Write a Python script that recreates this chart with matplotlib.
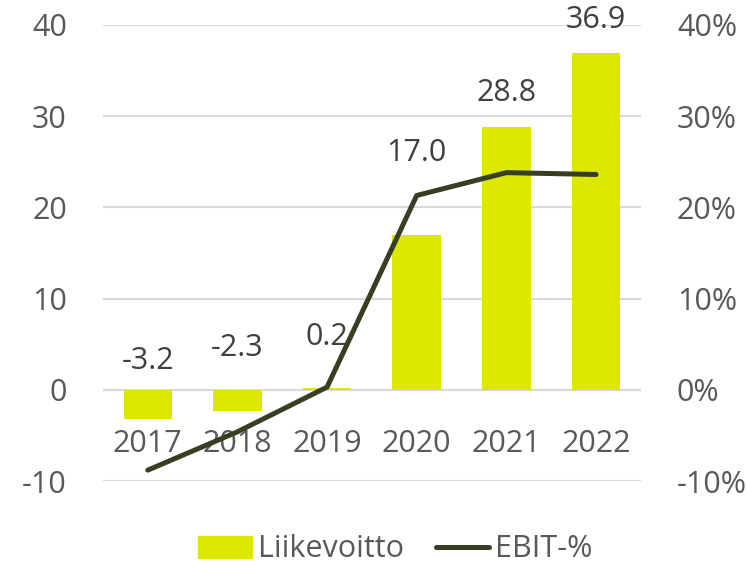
import matplotlib.pyplot as plt
import numpy as np
from matplotlib.ticker import FuncFormatter

plt.rcParams['font.family'] = ['Open Sans', 'DejaVu Sans']
plt.rcParams['axes.unicode_minus'] = False

years = ['2017', '2018', '2019', '2020', '2021', '2022']
liikevoitto = [-3.2, -2.3, 0.2, 17.0, 28.8, 36.9]
ebit_pct = [-8.8, -4.6, 0.3, 21.3, 23.8, 23.6]
# where the data labels sit (left axis units), they were placed by hand
label_y = [3.2, 4.6, 5.8, 26.0, 32.5, 40.5]

bar_color = '#dce800'
line_color = '#373f22'
text_color = '#595959'
fs = 22

fig = plt.figure(figsize=(7.46, 5.64), dpi=100)
ax = fig.add_axes([0.138, 0.147, 0.721, 0.809])
ax2 = ax.twinx()

x = np.arange(len(years))
ax.bar(x, liikevoitto, width=0.54, color=bar_color, zorder=2)
ax2.plot(x, ebit_pct, color=line_color, lw=3.6, solid_capstyle='round', zorder=3)

for xi, v, ly in zip(x, liikevoitto, label_y):
    ax.text(xi, ly, f'{v:.1f}', ha='center', va='center', fontsize=fs, color='#404040')

ax.set_xlim(-0.5, 5.5)
ax.set_ylim(-10, 40)
ax.set_yticks(range(-10, 41, 10))
ax2.set_ylim(-10, 40)
ax2.set_yticks(range(-10, 41, 10))
ax2.yaxis.set_major_formatter(FuncFormatter(lambda v, p: f'{v:.0f}%'))

ax.grid(axis='y', color='#d9d9d9', lw=1.5, zorder=0)
ax.set_axisbelow(True)

for a in (ax, ax2):
    for s in a.spines.values():
        s.set_visible(False)
ax.spines['bottom'].set_position(('data', 0))

ax.set_xticks(x)
ax.set_xticklabels(years)
ax.tick_params(axis='x', length=0, pad=28, labelsize=fs, labelcolor=text_color)
ax.tick_params(axis='y', length=0, pad=26, labelsize=fs, labelcolor=text_color)
ax2.tick_params(axis='y', length=0, pad=26, labelsize=fs, labelcolor=text_color)
for t in ax2.get_yticklabels():
    t.set_horizontalalignment('left')

handles = [plt.Rectangle((0, 0), 1, 1, color=bar_color),
           plt.Line2D([], [], color=line_color, lw=3.6, solid_capstyle='round')]
leg = fig.legend(handles, ['Liikevoitto', 'EBIT-%'], loc='center', bbox_to_anchor=(0.53, 0.026),
                 ncol=2, frameon=False, fontsize=fs, handlelength=1.75, handleheight=0.72,
                 handletextpad=0.2, columnspacing=1.05, borderpad=0)
for t in leg.get_texts():
    t.set_color(text_color)

fig.savefig('out.png', dpi=100)
